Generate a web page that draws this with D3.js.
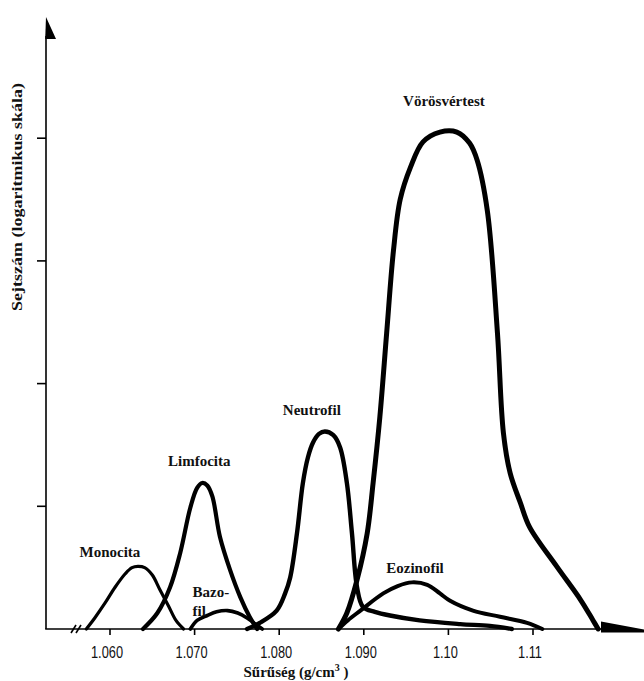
<!DOCTYPE html>
<html>
<head>
<meta charset="utf-8">
<script src="https://cdn.jsdelivr.net/npm/d3@7"></script>
<style>
    body { margin: 0; background: #fff; }
    .curve { fill: none; stroke: #000; stroke-linejoin: round; stroke-linecap: round; }
    .axisLine { stroke: #000; stroke-width: 1.6; fill: none; }
    .tickLabel { font-family: "Liberation Sans", Arial, sans-serif; font-size: 16px; fill: #111; }
    .curveLabel { font-family: "Liberation Serif", "Times New Roman", serif; font-weight: bold; font-size: 15px; fill: #111; }
    .axisTitle { font-family: "Liberation Serif", "Times New Roman", serif; font-weight: bold; font-size: 15px; fill: #111; }
</style>
</head>
<body>
<script>
(function () {

    //density values (g/cm3) and cell counts (log decades) for each cell type
    var categories = ["Monocita", "Limfocita", "Bazofil", "Neutrofil", "Eozinofil", "Vörösvértest"];

    var monocitaDensity = [1.0572, 1.0582, 1.0594, 1.0606, 1.0618, 1.0626, 1.0633, 1.0641, 1.0650, 1.0659, 1.0669, 1.0678, 1.0687];
    var monocitaCount = [0, 0.09, 0.21, 0.34, 0.45, 0.50, 0.51, 0.50, 0.44, 0.32, 0.19, 0.07, 0];

    var limfocitaDensity = [1.0639, 1.0656, 1.0671, 1.0683, 1.0695, 1.0703, 1.0709, 1.0715, 1.0721, 1.0730, 1.0742, 1.0754, 1.0765, 1.0774];
    var limfocitaCount = [0, 0.13, 0.34, 0.62, 0.99, 1.15, 1.19, 1.17, 1.08, 0.75, 0.48, 0.26, 0.10, 0];

    var bazofilDensity = [1.0695, 1.0703, 1.0715, 1.0726, 1.0739, 1.0751, 1.0762, 1.0770, 1.0780];
    var bazofilCount = [0, 0.07, 0.11, 0.14, 0.15, 0.13, 0.09, 0.05, 0];

    var neutrofilDensity = [1.0762, 1.0777, 1.0797, 1.0807, 1.0813, 1.0821, 1.0828, 1.0834, 1.0840, 1.0847, 1.0854, 1.0864, 1.0872, 1.0880, 1.0886, 1.0892, 1.0899, 1.0913, 1.0931, 1.0966, 1.1014, 1.1049, 1.1075];
    var neutrofilCount = [0, 0.05, 0.15, 0.29, 0.42, 0.78, 1.19, 1.40, 1.52, 1.59, 1.61, 1.58, 1.48, 1.19, 0.78, 0.34, 0.18, 0.14, 0.11, 0.07, 0.04, 0.025, 0];

    var eozinofilDensity = [1.0870, 1.0881, 1.0896, 1.0923, 1.0940, 1.0957, 1.0975, 1.0990, 1.1002, 1.1029, 1.1061, 1.1093, 1.1111];
    var eozinofilCount = [0, 0.07, 0.15, 0.29, 0.35, 0.38, 0.36, 0.29, 0.23, 0.15, 0.10, 0.05, 0];

    var vorosDensity = [1.0870, 1.0880, 1.0892, 1.0904, 1.0911, 1.0919, 1.0927, 1.0935, 1.0943, 1.0955, 1.0970, 1.0990, 1.1010, 1.1025, 1.1034, 1.1046, 1.1058, 1.1065, 1.1073, 1.1085, 1.1096, 1.1128, 1.1156, 1.1171, 1.1177];
    var vorosCount = [0, 0.13, 0.40, 0.78, 1.19, 1.73, 2.41, 3.08, 3.50, 3.76, 3.97, 4.05, 4.05, 3.96, 3.82, 3.41, 2.41, 1.60, 1.27, 1.03, 0.83, 0.51, 0.24, 0.07, 0];

    //axis ticks
    var xTicks = [1.060, 1.070, 1.080, 1.090, 1.10, 1.11];
    var xTickLabels = ["1.060", "1.070", "1.080", "1.090", "1.10", "1.11"];
    var yTicks = [1, 2, 3, 4];

    var yTitle = "Sejtszám (logaritmikus skála)";

    window.onload = setChart();

    function setChart() {
        var width = 644,
            height = 681;

        var svg = d3.select("body")
            .append("svg")
            .attr("width", width)
            .attr("height", height);

        var xScale = d3.scaleLinear()
            .domain([1.060, 1.11])
            .range([110, 533]);

        var yScale = d3.scaleLinear()
            .domain([0, 5])
            .range([629, 15.5]);

        var series = [
            { name: categories[0], x: monocitaDensity, y: monocitaCount },
            { name: categories[1], x: limfocitaDensity, y: limfocitaCount },
            { name: categories[2], x: bazofilDensity, y: bazofilCount },
            { name: categories[3], x: neutrofilDensity, y: neutrofilCount },
            { name: categories[4], x: eozinofilDensity, y: eozinofilCount },
            { name: categories[5], x: vorosDensity, y: vorosCount }
        ];

        //line widths per curve, the print is a bit uneven
        var strokeWidths = { "Monocita": 3.2, "Limfocita": 4.2, "Bazofil": 3.6, "Neutrofil": 4.4, "Eozinofil": 4, "Vörösvértest": 5 };

        var line = d3.line()
            .x(function (d) { return xScale(d[0]); })
            .y(function (d) { return Math.min(yScale(d[1]), yScale(0)); })
            .curve(d3.curveCatmullRom.alpha(0.5));

        svg.selectAll(".curve")
            .data(series)
            .enter()
            .append("path")
            .attr("class", "curve")
            .attr("stroke-width", function (d) { return strokeWidths[d.name]; })
            .attr("d", function (d) {
                return line(d3.zip(d.x, d.y));
            });

        setAxes(svg, xScale, yScale);
        setLabels(svg, series, xScale, yScale);
    };

    function setAxes(svg, xScale, yScale) {
        var y0 = yScale(0);

        //vertical axis with half arrow head
        svg.append("line")
            .attr("class", "axisLine")
            .attr("x1", 46).attr("x2", 46)
            .attr("y1", y0).attr("y2", 36);
        svg.append("path")
            .attr("d", "M46,17 L56,39 L45.2,39 Z")
            .style("fill", "#000");

        //horizontal axis with half arrow head
        svg.append("line")
            .attr("class", "axisLine")
            .attr("x1", 45.2).attr("x2", 602)
            .attr("y1", y0).attr("y2", y0);
        svg.append("path")
            .attr("d", "M601,621.5 L646,630 L646,632.5 L601,632.5 Z")
            .style("fill", "#000");

        //axis break mark
        svg.selectAll(".breakMark")
            .data([71, 76])
            .enter()
            .append("line")
            .attr("class", "axisLine")
            .attr("x1", function (d) { return d; })
            .attr("x2", function (d) { return d + 5; })
            .attr("y1", y0 + 4)
            .attr("y2", y0 - 4);

        //y ticks
        svg.selectAll(".yTick")
            .data(yTicks)
            .enter()
            .append("line")
            .attr("class", "axisLine")
            .attr("x1", 37).attr("x2", 46)
            .attr("y1", function (d) { return yScale(d); })
            .attr("y2", function (d) { return yScale(d); });

        //x ticks
        svg.selectAll(".xTick")
            .data(xTicks)
            .enter()
            .append("line")
            .attr("class", "axisLine")
            .attr("x1", function (d) { return xScale(d); })
            .attr("x2", function (d) { return xScale(d); })
            .attr("y1", y0)
            .attr("y2", y0 + 6);

        //condensed tick labels, squeezed horizontally
        svg.selectAll(".tickLabel")
            .data(xTicks)
            .enter()
            .append("text")
            .attr("class", "tickLabel")
            .attr("text-anchor", "middle")
            .attr("transform", function (d) {
                return "translate(" + (xScale(d) - 3) + "," + (y0 + 29) + ") scale(0.8,1)";
            })
            .text(function (d, i) { return xTickLabels[i]; });

        //axis titles
        var xTitle = svg.append("text")
            .attr("class", "axisTitle")
            .attr("text-anchor", "middle")
            .attr("x", 296)
            .attr("y", 677);
        xTitle.append("tspan").text("Sűrűség (g/cm");
        xTitle.append("tspan").attr("dy", -6).style("font-size", "10px").text("3");
        xTitle.append("tspan").attr("dy", 6).text(" )");

        svg.append("text")
            .attr("class", "axisTitle")
            .attr("text-anchor", "middle")
            .attr("transform", "translate(22,197) rotate(-90)")
            .attr("textLength", 228)
            .attr("lengthAdjust", "spacingAndGlyphs")
            .style("font-size", "14px")
            .text(yTitle);
    };

    function setLabels(svg, series, xScale, yScale) {
        //label offsets from each curve's peak, in pixels
        var offsets = {
            "Monocita": [-28, -9],
            "Limfocita": [-3, -17],
            "Neutrofil": [-13, -16],
            "Eozinofil": [3, -9],
            "Vörösvértest": [4, -26]
        };

        series.forEach(function (s) {
            var peak = d3.maxIndex(s.y);
            var px = xScale(s.x[peak]),
                py = yScale(s.y[peak]);

            if (s.name == "Bazofil") {
                //hyphenated over two lines, left aligned
                var t = svg.append("text")
                    .attr("class", "curveLabel")
                    .attr("x", px - 35)
                    .attr("y", py - 14);
                t.append("tspan").text("Bazo-");
                t.append("tspan").attr("x", px - 35).attr("dy", 19).text("fil");
                return;
            }

            svg.append("text")
                .attr("class", "curveLabel")
                .attr("text-anchor", "middle")
                .attr("x", px + offsets[s.name][0])
                .attr("y", py + offsets[s.name][1])
                .text(s.name);
        });
    };
})();
</script>
</body>
</html>
